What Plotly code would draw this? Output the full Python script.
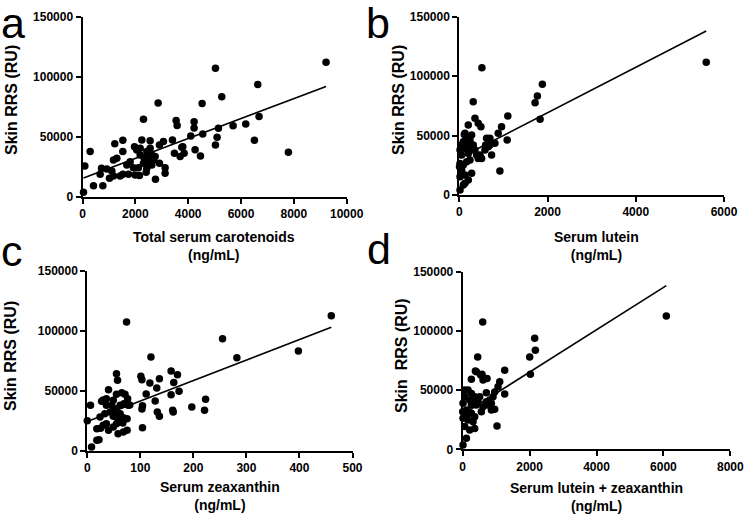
import plotly.graph_objects as go

W, H = 745, 514

# ---------------- data ----------------
# Panel a: total serum carotenoids (ng/mL) vs skin RRS (RU)
a_x = [9218, 5032, 6633, 5271, 2863, 4527, 6683, 2308, 3544, 3581, 4224, 4224, 5700, 6179,
       5145, 4552, 4098, 5095, 5032, 6507, 7793, 4464, 4262, 3405, 3064, 2913, 2560, 2245,
       3796, 3480, 3695, 3846, 3758, 1526, 1223, 1526, 1967, 2055, 290, 88, 38, 416, 769,
       2762, 2409, 2156, 3127, 3127, 2913, 719, 921, 1110, 1173, 668, 1021, 1299, 1173,
       1677, 1803, 1526, 1425, 1740, 1992, 1929, 2118, 2333, 2434, 2560, 2497, 2623, 2371,
       2497, 2686, 2182, 2308, 2623, 2434, 2749, 2182]
a_y = [112200, 107200, 93600, 83300, 78100, 77800, 66900, 64700, 63600, 59400, 62500, 57500,
       59200, 60800, 57200, 52500, 50800, 49700, 43300, 47200, 37200, 34200, 39400, 47500,
       46100, 43300, 46700, 47500, 41900, 36400, 33600, 36400, 41400, 47200, 44200, 37800,
       41900, 39200, 37800, 25800, 3900, 9400, 9400, 14700, 20600, 17800, 19700, 24400,
       28100, 23900, 23300, 21700, 17500, 18900, 15600, 32200, 30800, 26700, 29400, 18900,
       17500, 18900, 18300, 24400, 24400, 32200, 37800, 40600, 33600, 35000, 29400, 28100,
       30800, 35000, 28100, 26700, 23900, 33600, 40600]

# Panel b: serum lutein (ng/mL)
b_x = [5597, 512, 1883, 1770, 1718, 1831, 1100, 316, 203, 355, 429, 490, 958, 882, 1085, 920,
       694, 619, 597, 694, 732, 468, 506, 280, 129, 16, 129, 807, 655, 581, 393, 429,
       16, 53, 91, 166, 242, 204, 129, 53, 16, 91, 166, 242, 279, 204, 53, 129, 16, 204,
       91, 5, 279, 114, 317, 355]
b_y = [111600, 107100, 93100, 83300, 77700, 63700, 66500, 78500, 58900, 64500, 60300, 57400,
       57400, 51900, 46300, 20200, 47700, 47700, 42000, 42000, 33600, 33600, 30800, 18200,
       9800, 4200, 51900, 43500, 40600, 37800, 33600, 30800, 37800, 42000, 44900, 47700,
       46300, 42000, 39300, 33600, 26600, 25200, 28000, 29400, 37800, 35000, 21000, 16800,
       15400, 12600, 8400, 23800, 50500, 51000, 42000, 37800]

# Panel c: serum zeaxanthin (ng/mL)
c_x = [460, 74, 255, 282, 398, 120, 55, 57, 101, 103, 118, 136, 131, 158, 170, 163, 173, 111,
       128, 158, 223, 197, 221, 161, 132, 136, 104, 103, 104, 6, 0, 8, 18, 18, 25, 27, 40,
       36, 49, 55, 65, 71, 76, 77, 69, 62, 52, 43, 49, 58, 68, 75, 36, 30, 40, 49, 55, 58,
       68, 75, 67, 55, 62, 46, 33, 24, 36, 30, 80, 22, 162]
c_y = [112800, 107500, 93600, 77800, 83300, 78300, 64400, 58900, 62200, 59400, 56700, 60300,
       52500, 66700, 63600, 57000, 49700, 47500, 41700, 46900, 43100, 36700, 33900, 33900,
       32500, 28900, 37800, 35000, 19400, 38100, 25300, 3300, 8900, 18600, 18900, 41400,
       51100, 43600, 42200, 47200, 48600, 47200, 43600, 38100, 39400, 38100, 35300, 32500,
       28900, 26900, 27800, 26900, 22800, 21400, 17200, 20000, 22800, 14400, 15800, 17200,
       23300, 32500, 31100, 38100, 31100, 28300, 38100, 42500, 38300, 9400, 32500]

# Panel d: serum lutein + zeaxanthin (ng/mL)
d_x = [6087, 598, 2152, 2172, 2003, 2023, 1255, 448, 379, 578, 727, 259, 1106, 1056, 956,
       1255, 707, 1026, 956, 857, 558, 408, 538, 608, 159, 10, 60, 209, 309, 110, 259, 10,
       159, 309, 359, 60, 209, 110, 10, 359, 408, 458, 757, 807, 508, 0, 60, 259, 359, 259,
       110, 608, 707, 857, 907]
d_y = [112700, 107700, 93900, 83700, 78100, 63400, 66800, 78100, 66300, 63400, 59800, 59200,
       57200, 53000, 48500, 46800, 47900, 19700, 33800, 33200, 31800, 65600, 62800, 58600,
       50100, 38900, 44500, 41700, 38900, 33200, 30400, 26200, 24800, 23400, 17700, 19200,
       16300, 9300, 3700, 27600, 37500, 41700, 37500, 41700, 44500, 31800, 50100, 47300,
       44500, 37500, 29000, 36100, 40300, 38900, 44500]

# fitted regression lines (intercept, slope)
fit_a = (15500, 8.3)
fit_b = (31000, 19.1)
fit_c = (24500, 171.0)
fit_d = (29500, 17.9)

x_ranges = {"a": [0, 10000], "b": [0, 6000], "c": [0, 500], "d": [0, 8000]}
x_dticks = {"a": 2000, "b": 2000, "c": 100, "d": 2000}
y_range = [0, 150000]
y_dtick = 50000

x_titles = {"a": "Total serum carotenoids", "b": "Serum lutein",
            "c": "Serum zeaxanthin", "d": "Serum lutein + zeaxanthin"}
unit = "(ng/mL)"
y_titles = {"a": "Skin RRS (RU)", "b": "Skin RRS (RU)", "c": "Skin RRS (RU)", "d": "Skin  RRS (RU)"}

# ---------------- layout geometry (pixels) ----------------
def fx(p):
    return p / W

def fy(p):
    return 1 - p / H

geom = {
    "a": dict(x0=82.5, x1=346.7, y0=197.0, y1=16.7),
    "b": dict(x0=459.3, x1=724.0, y0=195.0, y1=16.7),
    "c": dict(x0=87.3, x1=352.5, y0=451.0, y1=271.0),
    "d": dict(x0=462.7, x1=730.3, y0=449.3, y1=272.0),
}

FONT = "Liberation Sans, Arial, sans-serif"

panels = {"a": (a_x, a_y, fit_a), "b": (b_x, b_y, fit_b),
          "c": (c_x, c_y, fit_c), "d": (d_x, d_y, fit_d)}

fig = go.Figure()
layout = dict(width=W, height=H, margin=dict(l=0, r=0, t=0, b=0, autoexpand=False),
              paper_bgcolor="white", plot_bgcolor="white", showlegend=False)

axis_style = dict(showline=True, linecolor="black", linewidth=2, ticks="outside",
                  ticklen=5, tickwidth=2, tickcolor="black", showgrid=False,
                  zeroline=False, tickformat="d", automargin=False,
                  tickfont=dict(family=FONT, size=12, color="black", weight="bold"))

for i, key in enumerate(["a", "b", "c", "d"]):
    n = "" if i == 0 else str(i + 1)
    xs, ys, (b0, b1) = panels[key]
    g = geom[key]
    fig.add_trace(go.Scatter(x=xs, y=ys, mode="markers", xaxis="x" + n, yaxis="y" + n,
                             marker=dict(color="black", size=7.5), cliponaxis=False))
    lx = [min(xs), max(xs)]
    ly = [b0 + b1 * v for v in lx]
    fig.add_trace(go.Scatter(x=lx, y=ly, mode="lines", xaxis="x" + n, yaxis="y" + n,
                             line=dict(color="black", width=1.6), cliponaxis=False))
    layout["xaxis" + n] = dict(axis_style, domain=[fx(g["x0"]), fx(g["x1"])],
                               range=x_ranges[key], dtick=x_dticks[key], tick0=0,
                               anchor="y" + n)
    layout["yaxis" + n] = dict(axis_style, domain=[fy(g["y0"]), fy(g["y1"])],
                               range=y_range, dtick=y_dtick, tick0=0, anchor="x" + n)

fig.update_layout(**layout)

ann = []
# panel letters: (left x px, baseline px)
LSIZE = 43
letters = {"a": (0, 39), "b": (365, 39), "c": (0, 267), "d": (366, 265)}
for k, (lx0, base) in letters.items():
    ann.append(dict(text=k, x=fx(lx0), y=fy(base + 0.21 * LSIZE), xref="paper", yref="paper",
                    xanchor="left", yanchor="bottom", showarrow=False, borderpad=0,
                    font=dict(family=FONT, size=LSIZE, color="black")))
# x titles
xt_pos = {"a": (214, 246), "b": (596, 246), "c": (220, 496), "d": (596, 497)}
for k, (cx, cy) in xt_pos.items():
    ann.append(dict(text="<b>%s</b><br><b>%s</b>" % (x_titles[k], unit),
                    x=fx(cx), y=fy(cy), xref="paper", yref="paper",
                    xanchor="center", yanchor="middle", showarrow=False,
                    font=dict(family=FONT, size=14, color="black")))
# y titles
yt_pos = {"a": (12, 100), "b": (399, 100), "c": (10, 356), "d": (401, 356)}
for k, (cx, cy) in yt_pos.items():
    ann.append(dict(text="<b>%s</b>" % y_titles[k], x=fx(cx), y=fy(cy),
                    xref="paper", yref="paper", xanchor="center", yanchor="middle",
                    textangle=-90, showarrow=False,
                    font=dict(family=FONT, size=16, color="black")))
fig.update_layout(annotations=ann)

fig.write_html("out.html", config={"displayModeBar": False},
               post_script="document.body.style.margin='0';document.body.style.overflow='hidden';")
